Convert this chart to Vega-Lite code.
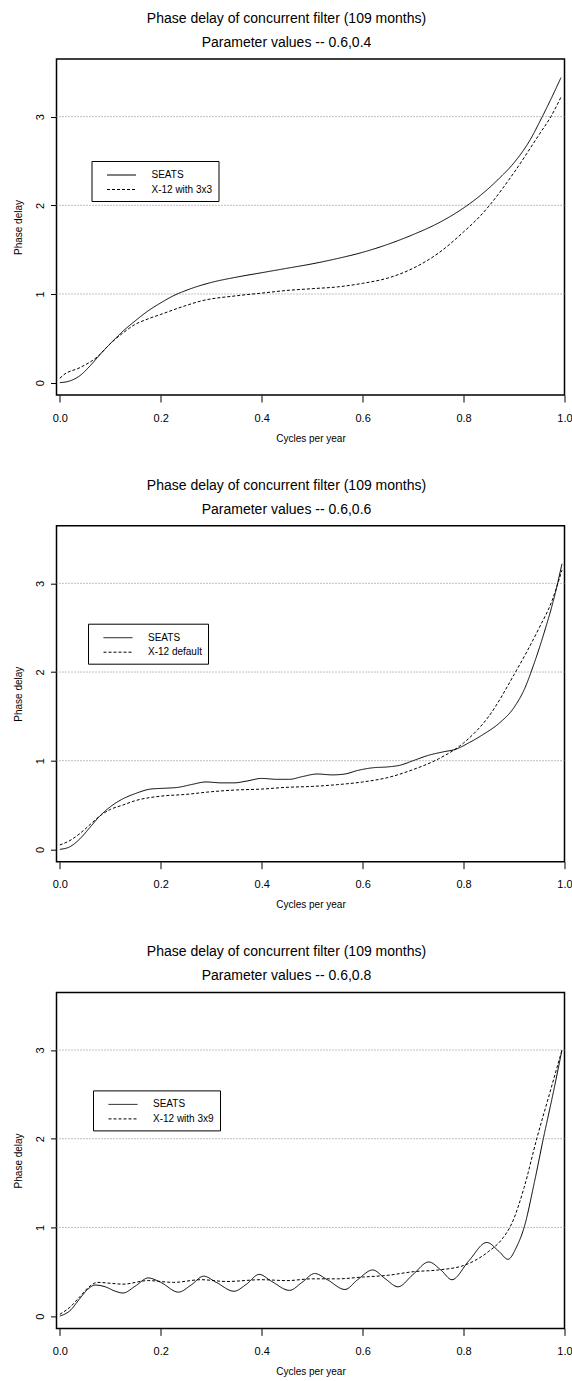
{
  "$schema": "https://vega.github.io/schema/vega-lite/v6.json",
  "padding": {"left": 12.5, "top": 11, "right": 5, "bottom": 3},
  "background": "white",
  "config": {
    "font": "Liberation Sans",
    "view": {"stroke": "black", "strokeWidth": 1.5},
    "title": {"fontSize": 14, "fontWeight": "normal", "color": "black", "lineHeight": 24, "offset": 9, "dx": -24, "font": "Liberation Sans"},
    "axis": {"labelFont": "Liberation Sans", "titleFont": "Liberation Sans", "labelColor": "black", "titleColor": "black", "tickColor": "black", "domain": false, "grid": false, "labelFlush": false, "titleFontWeight": "normal"},
    "legend": {"labelFont": "Liberation Sans", "labelFontSize": 10, "labelColor": "black", "strokeColor": "black", "fillColor": "white", "padding": 6, "symbolType": "M-2,0H2", "symbolSize": 210, "symbolStrokeWidth": 1, "symbolStrokeColor": "black", "symbolFillColor": "transparent", "labelOffset": 22, "rowPadding": 1.5, "symbolOffset": 16}
  },
  "datasets": {
    "grid": [{"y": 1}, {"y": 2}, {"y": 3}],
    "p1": [
      {"x": 0, "y": 0, "series": "SEATS"}, {"x": 0.02, "y": 0.02, "series": "SEATS"}, {"x": 0.04, "y": 0.08, "series": "SEATS"}, {"x": 0.06, "y": 0.19, "series": "SEATS"}, {"x": 0.08, "y": 0.32, "series": "SEATS"}, {"x": 0.1, "y": 0.44, "series": "SEATS"}, {"x": 0.125, "y": 0.58, "series": "SEATS"}, {"x": 0.15, "y": 0.7, "series": "SEATS"}, {"x": 0.175, "y": 0.81, "series": "SEATS"}, {"x": 0.2, "y": 0.9, "series": "SEATS"}, {"x": 0.225, "y": 0.98, "series": "SEATS"}, {"x": 0.25, "y": 1.04, "series": "SEATS"}, {"x": 0.3, "y": 1.13, "series": "SEATS"}, {"x": 0.35, "y": 1.19, "series": "SEATS"}, {"x": 0.4, "y": 1.24, "series": "SEATS"}, {"x": 0.45, "y": 1.29, "series": "SEATS"}, {"x": 0.5, "y": 1.34, "series": "SEATS"}, {"x": 0.55, "y": 1.4, "series": "SEATS"}, {"x": 0.6, "y": 1.47, "series": "SEATS"}, {"x": 0.65, "y": 1.56, "series": "SEATS"}, {"x": 0.7, "y": 1.67, "series": "SEATS"}, {"x": 0.75, "y": 1.8, "series": "SEATS"}, {"x": 0.8, "y": 1.97, "series": "SEATS"}, {"x": 0.833, "y": 2.11, "series": "SEATS"}, {"x": 0.87, "y": 2.3, "series": "SEATS"}, {"x": 0.9, "y": 2.48, "series": "SEATS"}, {"x": 0.93, "y": 2.72, "series": "SEATS"}, {"x": 0.956, "y": 3.0, "series": "SEATS"}, {"x": 0.975, "y": 3.22, "series": "SEATS"}, {"x": 0.993, "y": 3.44, "series": "SEATS"},
      {"x": 0, "y": 0.05, "series": "X-12 with 3x3"}, {"x": 0.008, "y": 0.09, "series": "X-12 with 3x3"}, {"x": 0.04, "y": 0.17, "series": "X-12 with 3x3"}, {"x": 0.074, "y": 0.29, "series": "X-12 with 3x3"}, {"x": 0.1, "y": 0.44, "series": "X-12 with 3x3"}, {"x": 0.125, "y": 0.56, "series": "X-12 with 3x3"}, {"x": 0.147, "y": 0.65, "series": "X-12 with 3x3"}, {"x": 0.175, "y": 0.72, "series": "X-12 with 3x3"}, {"x": 0.2, "y": 0.77, "series": "X-12 with 3x3"}, {"x": 0.25, "y": 0.87, "series": "X-12 with 3x3"}, {"x": 0.279, "y": 0.92, "series": "X-12 with 3x3"}, {"x": 0.35, "y": 0.98, "series": "X-12 with 3x3"}, {"x": 0.4, "y": 1.01, "series": "X-12 with 3x3"}, {"x": 0.45, "y": 1.04, "series": "X-12 with 3x3"}, {"x": 0.5, "y": 1.06, "series": "X-12 with 3x3"}, {"x": 0.55, "y": 1.08, "series": "X-12 with 3x3"}, {"x": 0.6, "y": 1.12, "series": "X-12 with 3x3"}, {"x": 0.65, "y": 1.18, "series": "X-12 with 3x3"}, {"x": 0.7, "y": 1.29, "series": "X-12 with 3x3"}, {"x": 0.75, "y": 1.46, "series": "X-12 with 3x3"}, {"x": 0.8, "y": 1.7, "series": "X-12 with 3x3"}, {"x": 0.833, "y": 1.88, "series": "X-12 with 3x3"}, {"x": 0.85, "y": 1.99, "series": "X-12 with 3x3"}, {"x": 0.9, "y": 2.37, "series": "X-12 with 3x3"}, {"x": 0.95, "y": 2.8, "series": "X-12 with 3x3"}, {"x": 0.973, "y": 3.0, "series": "X-12 with 3x3"}, {"x": 0.993, "y": 3.22, "series": "X-12 with 3x3"}
    ],
    "p2": [
      {"x": 0, "y": 0, "series": "SEATS"}, {"x": 0.02, "y": 0.03, "series": "SEATS"}, {"x": 0.04, "y": 0.12, "series": "SEATS"}, {"x": 0.06, "y": 0.25, "series": "SEATS"}, {"x": 0.08, "y": 0.38, "series": "SEATS"}, {"x": 0.1, "y": 0.48, "series": "SEATS"}, {"x": 0.125, "y": 0.57, "series": "SEATS"}, {"x": 0.15, "y": 0.63, "series": "SEATS"}, {"x": 0.18, "y": 0.68, "series": "SEATS"}, {"x": 0.21, "y": 0.69, "series": "SEATS"}, {"x": 0.235, "y": 0.7, "series": "SEATS"}, {"x": 0.26, "y": 0.73, "series": "SEATS"}, {"x": 0.29, "y": 0.76, "series": "SEATS"}, {"x": 0.32, "y": 0.75, "series": "SEATS"}, {"x": 0.345, "y": 0.75, "series": "SEATS"}, {"x": 0.37, "y": 0.77, "series": "SEATS"}, {"x": 0.4, "y": 0.8, "series": "SEATS"}, {"x": 0.43, "y": 0.79, "series": "SEATS"}, {"x": 0.455, "y": 0.79, "series": "SEATS"}, {"x": 0.48, "y": 0.82, "series": "SEATS"}, {"x": 0.51, "y": 0.85, "series": "SEATS"}, {"x": 0.54, "y": 0.84, "series": "SEATS"}, {"x": 0.565, "y": 0.85, "series": "SEATS"}, {"x": 0.59, "y": 0.89, "series": "SEATS"}, {"x": 0.62, "y": 0.92, "series": "SEATS"}, {"x": 0.65, "y": 0.93, "series": "SEATS"}, {"x": 0.675, "y": 0.95, "series": "SEATS"}, {"x": 0.7, "y": 1.0, "series": "SEATS"}, {"x": 0.73, "y": 1.06, "series": "SEATS"}, {"x": 0.76, "y": 1.1, "series": "SEATS"}, {"x": 0.785, "y": 1.13, "series": "SEATS"}, {"x": 0.81, "y": 1.2, "series": "SEATS"}, {"x": 0.84, "y": 1.3, "series": "SEATS"}, {"x": 0.87, "y": 1.42, "series": "SEATS"}, {"x": 0.9, "y": 1.6, "series": "SEATS"}, {"x": 0.92, "y": 1.8, "series": "SEATS"}, {"x": 0.94, "y": 2.1, "series": "SEATS"}, {"x": 0.96, "y": 2.45, "series": "SEATS"}, {"x": 0.98, "y": 2.85, "series": "SEATS"}, {"x": 0.995, "y": 3.22, "series": "SEATS"},
      {"x": 0, "y": 0.05, "series": "X-12 default"}, {"x": 0.02, "y": 0.1, "series": "X-12 default"}, {"x": 0.04, "y": 0.18, "series": "X-12 default"}, {"x": 0.06, "y": 0.28, "series": "X-12 default"}, {"x": 0.08, "y": 0.38, "series": "X-12 default"}, {"x": 0.1, "y": 0.45, "series": "X-12 default"}, {"x": 0.125, "y": 0.5, "series": "X-12 default"}, {"x": 0.15, "y": 0.55, "series": "X-12 default"}, {"x": 0.2, "y": 0.6, "series": "X-12 default"}, {"x": 0.25, "y": 0.62, "series": "X-12 default"}, {"x": 0.3, "y": 0.65, "series": "X-12 default"}, {"x": 0.35, "y": 0.67, "series": "X-12 default"}, {"x": 0.4, "y": 0.68, "series": "X-12 default"}, {"x": 0.45, "y": 0.7, "series": "X-12 default"}, {"x": 0.5, "y": 0.71, "series": "X-12 default"}, {"x": 0.55, "y": 0.73, "series": "X-12 default"}, {"x": 0.6, "y": 0.76, "series": "X-12 default"}, {"x": 0.65, "y": 0.81, "series": "X-12 default"}, {"x": 0.7, "y": 0.9, "series": "X-12 default"}, {"x": 0.75, "y": 1.02, "series": "X-12 default"}, {"x": 0.8, "y": 1.2, "series": "X-12 default"}, {"x": 0.85, "y": 1.5, "series": "X-12 default"}, {"x": 0.9, "y": 1.97, "series": "X-12 default"}, {"x": 0.95, "y": 2.5, "series": "X-12 default"}, {"x": 0.975, "y": 2.8, "series": "X-12 default"}, {"x": 0.995, "y": 3.15, "series": "X-12 default"}
    ],
    "p3": [
      {"x": 0, "y": 0, "series": "SEATS"}, {"x": 0.02, "y": 0.06, "series": "SEATS"}, {"x": 0.04, "y": 0.2, "series": "SEATS"}, {"x": 0.055, "y": 0.3, "series": "SEATS"}, {"x": 0.07, "y": 0.35, "series": "SEATS"}, {"x": 0.09, "y": 0.33, "series": "SEATS"}, {"x": 0.11, "y": 0.28, "series": "SEATS"}, {"x": 0.125, "y": 0.26, "series": "SEATS"}, {"x": 0.15, "y": 0.34, "series": "SEATS"}, {"x": 0.175, "y": 0.43, "series": "SEATS"}, {"x": 0.2, "y": 0.38, "series": "SEATS"}, {"x": 0.235, "y": 0.27, "series": "SEATS"}, {"x": 0.26, "y": 0.35, "series": "SEATS"}, {"x": 0.285, "y": 0.45, "series": "SEATS"}, {"x": 0.31, "y": 0.38, "series": "SEATS"}, {"x": 0.345, "y": 0.28, "series": "SEATS"}, {"x": 0.37, "y": 0.36, "series": "SEATS"}, {"x": 0.395, "y": 0.47, "series": "SEATS"}, {"x": 0.42, "y": 0.39, "series": "SEATS"}, {"x": 0.455, "y": 0.29, "series": "SEATS"}, {"x": 0.48, "y": 0.38, "series": "SEATS"}, {"x": 0.505, "y": 0.48, "series": "SEATS"}, {"x": 0.53, "y": 0.41, "series": "SEATS"}, {"x": 0.565, "y": 0.3, "series": "SEATS"}, {"x": 0.59, "y": 0.41, "series": "SEATS"}, {"x": 0.62, "y": 0.52, "series": "SEATS"}, {"x": 0.645, "y": 0.42, "series": "SEATS"}, {"x": 0.67, "y": 0.33, "series": "SEATS"}, {"x": 0.7, "y": 0.47, "series": "SEATS"}, {"x": 0.731, "y": 0.61, "series": "SEATS"}, {"x": 0.755, "y": 0.52, "series": "SEATS"}, {"x": 0.777, "y": 0.41, "series": "SEATS"}, {"x": 0.81, "y": 0.62, "series": "SEATS"}, {"x": 0.846, "y": 0.83, "series": "SEATS"}, {"x": 0.87, "y": 0.73, "series": "SEATS"}, {"x": 0.888, "y": 0.64, "series": "SEATS"}, {"x": 0.905, "y": 0.78, "series": "SEATS"}, {"x": 0.92, "y": 1.0, "series": "SEATS"}, {"x": 0.94, "y": 1.5, "series": "SEATS"}, {"x": 0.958, "y": 2.0, "series": "SEATS"}, {"x": 0.977, "y": 2.5, "series": "SEATS"}, {"x": 0.995, "y": 3.0, "series": "SEATS"},
      {"x": 0, "y": 0.02, "series": "X-12 with 3x9"}, {"x": 0.02, "y": 0.1, "series": "X-12 with 3x9"}, {"x": 0.04, "y": 0.22, "series": "X-12 with 3x9"}, {"x": 0.06, "y": 0.34, "series": "X-12 with 3x9"}, {"x": 0.075, "y": 0.38, "series": "X-12 with 3x9"}, {"x": 0.1, "y": 0.37, "series": "X-12 with 3x9"}, {"x": 0.125, "y": 0.36, "series": "X-12 with 3x9"}, {"x": 0.175, "y": 0.4, "series": "X-12 with 3x9"}, {"x": 0.225, "y": 0.38, "series": "X-12 with 3x9"}, {"x": 0.28, "y": 0.41, "series": "X-12 with 3x9"}, {"x": 0.33, "y": 0.39, "series": "X-12 with 3x9"}, {"x": 0.4, "y": 0.41, "series": "X-12 with 3x9"}, {"x": 0.45, "y": 0.4, "series": "X-12 with 3x9"}, {"x": 0.5, "y": 0.42, "series": "X-12 with 3x9"}, {"x": 0.55, "y": 0.42, "series": "X-12 with 3x9"}, {"x": 0.6, "y": 0.44, "series": "X-12 with 3x9"}, {"x": 0.65, "y": 0.46, "series": "X-12 with 3x9"}, {"x": 0.7, "y": 0.5, "series": "X-12 with 3x9"}, {"x": 0.75, "y": 0.52, "series": "X-12 with 3x9"}, {"x": 0.8, "y": 0.57, "series": "X-12 with 3x9"}, {"x": 0.85, "y": 0.73, "series": "X-12 with 3x9"}, {"x": 0.875, "y": 0.86, "series": "X-12 with 3x9"}, {"x": 0.896, "y": 1.05, "series": "X-12 with 3x9"}, {"x": 0.92, "y": 1.45, "series": "X-12 with 3x9"}, {"x": 0.945, "y": 2.0, "series": "X-12 with 3x9"}, {"x": 0.97, "y": 2.5, "series": "X-12 with 3x9"}, {"x": 0.995, "y": 3.0, "series": "X-12 with 3x9"}
    ]
  },
  "spacing": 130.7,
  "bounds": "flush",
  "resolve": {"scale": {"strokeDash": "independent", "x": "independent", "y": "independent"}, "legend": {"strokeDash": "independent"}},
  "vconcat": [
    {
      "width": 508, "height": 336,
      "title": {"text": ["Phase delay of concurrent filter (109 months)", "Parameter values -- 0.6,0.4"]},
      "encoding": {"y": {"field": "y", "type": "quantitative", "scale": {"domain": [-0.139, 3.65], "nice": false, "zero": false}, "axis": {"values": [0, 1, 2, 3], "labelAngle": 270, "labelAlign": "center", "labelBaseline": "bottom", "labelFontSize": 11, "labelPadding": 5, "tickSize": 6, "title": "Phase delay", "titleFontSize": 10, "titlePadding": 11}}},
      "layer": [
        {"data": {"name": "grid"}, "mark": {"type": "rule", "color": "#808080", "strokeDash": [1, 2], "strokeWidth": 1}},
        {"data": {"name": "p1"}, "mark": {"type": "line", "interpolate": "monotone", "color": "black", "strokeWidth": 1, "clip": true},
         "encoding": {
           "x": {"field": "x", "type": "quantitative", "scale": {"domain": [-0.0066, 1.0], "nice": false, "zero": false}, "axis": {"values": [0, 0.2, 0.4, 0.6, 0.8, 1.0], "format": ".1f", "labelFontSize": 11, "labelPadding": 10, "tickSize": 7, "title": "Cycles per year", "titleFontSize": 10, "titlePadding": 10}},
           "strokeDash": {"field": "series", "type": "nominal", "scale": {"domain": ["SEATS", "X-12 with 3x3"], "range": [[1, 0], [3, 2]]}, "legend": {"orient": "none", "legendX": 35, "legendY": 102, "title": null}}
         }}
      ]
    },
    {
      "width": 508, "height": 336,
      "title": {"text": ["Phase delay of concurrent filter (109 months)", "Parameter values -- 0.6,0.6"]},
      "encoding": {"y": {"field": "y", "type": "quantitative", "scale": {"domain": [-0.139, 3.65], "nice": false, "zero": false}, "axis": {"values": [0, 1, 2, 3], "labelAngle": 270, "labelAlign": "center", "labelBaseline": "bottom", "labelFontSize": 11, "labelPadding": 5, "tickSize": 6, "title": "Phase delay", "titleFontSize": 10, "titlePadding": 11}}},
      "layer": [
        {"data": {"name": "grid"}, "mark": {"type": "rule", "color": "#808080", "strokeDash": [1, 2], "strokeWidth": 1}},
        {"data": {"name": "p2"}, "mark": {"type": "line", "interpolate": "monotone", "color": "black", "strokeWidth": 1, "clip": true},
         "encoding": {
           "x": {"field": "x", "type": "quantitative", "scale": {"domain": [-0.0066, 1.0], "nice": false, "zero": false}, "axis": {"values": [0, 0.2, 0.4, 0.6, 0.8, 1.0], "format": ".1f", "labelFontSize": 11, "labelPadding": 10, "tickSize": 7, "title": "Cycles per year", "titleFontSize": 10, "titlePadding": 10}},
           "strokeDash": {"field": "series", "type": "nominal", "scale": {"domain": ["SEATS", "X-12 default"], "range": [[1, 0], [3, 2]]}, "legend": {"orient": "none", "legendX": 31.5, "legendY": 98, "title": null}}
         }}
      ]
    },
    {
      "width": 508, "height": 336,
      "title": {"text": ["Phase delay of concurrent filter (109 months)", "Parameter values -- 0.6,0.8"]},
      "encoding": {"y": {"field": "y", "type": "quantitative", "scale": {"domain": [-0.139, 3.65], "nice": false, "zero": false}, "axis": {"values": [0, 1, 2, 3], "labelAngle": 270, "labelAlign": "center", "labelBaseline": "bottom", "labelFontSize": 11, "labelPadding": 5, "tickSize": 6, "title": "Phase delay", "titleFontSize": 10, "titlePadding": 11}}},
      "layer": [
        {"data": {"name": "grid"}, "mark": {"type": "rule", "color": "#808080", "strokeDash": [1, 2], "strokeWidth": 1}},
        {"data": {"name": "p3"}, "mark": {"type": "line", "interpolate": "monotone", "color": "black", "strokeWidth": 1, "clip": true},
         "encoding": {
           "x": {"field": "x", "type": "quantitative", "scale": {"domain": [-0.0066, 1.0], "nice": false, "zero": false}, "axis": {"values": [0, 0.2, 0.4, 0.6, 0.8, 1.0], "format": ".1f", "labelFontSize": 11, "labelPadding": 10, "tickSize": 7, "title": "Cycles per year", "titleFontSize": 10, "titlePadding": 10}},
           "strokeDash": {"field": "series", "type": "nominal", "scale": {"domain": ["SEATS", "X-12 with 3x9"], "range": [[1, 0], [3, 2]]}, "legend": {"orient": "none", "legendX": 36.5, "legendY": 98, "title": null}}
         }}
      ]
    }
  ]
}
